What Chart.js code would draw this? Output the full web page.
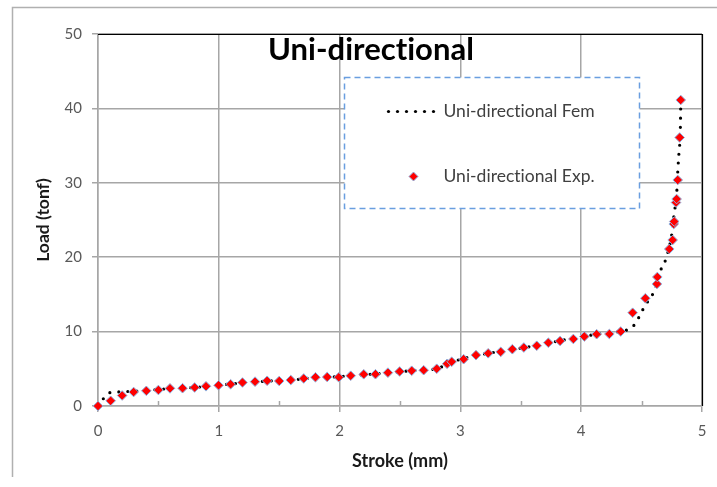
<!DOCTYPE html>
<html>
<head>
<meta charset="utf-8">
<script src="https://cdn.jsdelivr.net/npm/chart.js@4.4.1/dist/chart.umd.min.js"></script>
<style>
  html, body { margin: 0; padding: 0; background: #ffffff; }
  canvas { display: block; }
</style>
</head>
<body>
<canvas id="chart" width="717" height="487"></canvas>
<script>
// Labels
const chartTitle = 'Uni-directional';
const xAxisTitle = 'Stroke (mm)';
const yAxisTitle = 'Load (tonf)';
const femLabel = 'Uni-directional Fem';
const expLabel = 'Uni-directional Exp.';

// Axis ticks
const xTicks = [0, 1, 2, 3, 4, 5];
const xMinorTicks = [0.5, 1.5, 2.5, 3.5, 4.5];
const yTicks = [0, 10, 20, 30, 40, 50];

// Finite element result (stroke in mm, load in tonf)
const femStroke = [0, 0.04, 0.1, 0.18, 0.27, 0.4, 0.6, 0.8, 1.0, 1.2, 1.4, 1.6, 1.8, 2.0, 2.2, 2.4, 2.6, 2.8, 2.88, 2.95, 3.05, 3.2, 3.4, 3.6, 3.8, 4.0, 4.15, 4.3, 4.39, 4.445, 4.48, 4.515, 4.555, 4.6, 4.666, 4.7, 4.752, 4.77, 4.79, 4.8, 4.81, 4.82, 4.824, 4.826];
const femLoad   = [0, 0.9, 1.8, 1.9, 1.97, 2.1, 2.35, 2.5, 2.8, 3.1, 3.35, 3.5, 3.8, 3.95, 4.2, 4.45, 4.75, 5.0, 5.5, 6.0, 6.5, 7.0, 7.5, 8.05, 8.7, 9.3, 9.7, 9.95, 10.3, 11.0, 12.0, 13.1, 14.15, 15.3, 18.6, 19.7, 23.3, 25.9, 28.4, 31.7, 34.2, 36.65, 40.2, 41.1];

// Experimental measurements (stroke in mm, load in tonf)
const expStroke = [0, 0.105, 0.2, 0.295, 0.4, 0.5, 0.596, 0.7, 0.8, 0.894, 0.998, 1.098, 1.196, 1.3, 1.4, 1.5, 1.596, 1.703, 1.8, 1.897, 1.993, 2.092, 2.2, 2.297, 2.4, 2.497, 2.597, 2.696, 2.804, 2.89, 2.928, 3.027, 3.129, 3.23, 3.334, 3.43, 3.525, 3.632, 3.728, 3.825, 3.935, 4.026, 4.128, 4.233, 4.327, 4.426, 4.531, 4.627, 4.63, 4.729, 4.757, 4.766, 4.77, 4.785, 4.79, 4.799, 4.815, 4.824];
const expLoad   = [0, 0.7, 1.41, 1.88, 2.04, 2.15, 2.37, 2.39, 2.49, 2.65, 2.78, 2.92, 3.16, 3.27, 3.39, 3.36, 3.49, 3.7, 3.86, 3.9, 3.86, 4.07, 4.26, 4.27, 4.48, 4.64, 4.74, 4.81, 5.01, 5.67, 5.95, 6.29, 6.84, 7.08, 7.28, 7.63, 7.86, 8.1, 8.51, 8.74, 9.01, 9.34, 9.65, 9.68, 10.01, 12.54, 14.48, 16.4, 17.34, 21.1, 22.31, 24.46, 24.8, 27.35, 27.82, 30.38, 36.09, 41.13];

const FONT = 'Lato, "Open Sans", sans-serif';
const GRID = '#a6a6a6';
const EXP_FILL = '#ff0000';
const EXP_EDGE = '#8db3e2';

function drawDiamond(ctx, x, y, r) {
  ctx.beginPath();
  ctx.moveTo(x, y - r);
  ctx.lineTo(x + r, y);
  ctx.lineTo(x, y + r);
  ctx.lineTo(x - r, y);
  ctx.closePath();
  ctx.fillStyle = EXP_FILL;
  ctx.fill();
  ctx.strokeStyle = EXP_EDGE;
  ctx.lineWidth = 1;
  ctx.stroke();
}

// Plain glyphs (no "ti" ligature) for text drawn directly on the canvas
function plainText(ctx) {
  if ('textRendering' in ctx) ctx.textRendering = 'optimizeSpeed';
  if ('letterSpacing' in ctx) ctx.letterSpacing = '0.01px';
}

// Frame, plot border, minor ticks, title and boxed legend
const decorations = {
  id: 'decorations',
  beforeDraw(chart) {
    const ctx = chart.ctx;
    ctx.save();
    ctx.fillStyle = '#ffffff';
    ctx.fillRect(0, 0, chart.width, chart.height);
    ctx.strokeStyle = '#b0b0b0';
    ctx.lineWidth = 1.5;
    ctx.beginPath();
    ctx.moveTo(12.5, 477);
    ctx.lineTo(12.5, 7.5);
    ctx.lineTo(chart.width, 7.5);
    ctx.stroke();
    ctx.restore();
  },
  afterDraw(chart) {
    const ctx = chart.ctx;
    const a = chart.chartArea;
    const xs = chart.scales.x;
    ctx.save();
    plainText(ctx);

    // minor ticks on the stroke axis
    ctx.strokeStyle = GRID;
    ctx.lineWidth = 1.5;
    xMinorTicks.forEach(v => {
      const px = Math.round(xs.getPixelForValue(v)) + 0.5;
      ctx.beginPath();
      ctx.moveTo(px, a.bottom - 5);
      ctx.lineTo(px, a.bottom);
      ctx.stroke();
    });

    // top and right border of the plot
    ctx.strokeStyle = '#000000';
    ctx.lineWidth = 1.2;
    ctx.beginPath();
    ctx.moveTo(a.left, a.top + 0.5);
    ctx.lineTo(a.right + 0.5, a.top + 0.5);
    ctx.lineTo(a.right + 0.5, a.bottom);
    ctx.stroke();

    // chart title
    ctx.fillStyle = '#000000';
    ctx.font = 'bold 31px ' + FONT;
    ctx.textAlign = 'center';
    ctx.textBaseline = 'alphabetic';
    ctx.fillText(chartTitle, a.left + 273, a.top + 26);

    // legend box
    const bx = a.left + 246.5, by = a.top + 43.5, bw = 295, bh = 131;
    ctx.fillStyle = '#ffffff';
    ctx.fillRect(bx, by, bw, bh);
    ctx.setLineDash([6, 4]);
    ctx.strokeStyle = '#6a9ee0';
    ctx.lineWidth = 1.5;
    ctx.strokeRect(bx, by, bw, bh);
    ctx.setLineDash([]);

    const ds = chart.data.datasets;
    // dotted line sample
    ctx.fillStyle = '#000000';
    for (let i = 0; i < 6; i++) {
      ctx.beginPath();
      ctx.arc(bx + 44 + i * 9, by + 34, 1.6, 0, Math.PI * 2);
      ctx.fill();
    }
    drawDiamond(ctx, bx + 69, by + 99, 4.5);

    ctx.fillStyle = '#404040';
    ctx.font = '17.5px ' + FONT;
    ctx.textAlign = 'left';
    ctx.textBaseline = 'middle';
    ctx.fillText(ds[0].label, bx + 99, by + 34);
    ctx.fillText(ds[1].label, bx + 99, by + 99);
    ctx.restore();
  }
};

new Chart(document.getElementById('chart'), {
  data: {
    datasets: [
      {
        type: 'line',
        label: femLabel,
        data: femStroke.map((x, i) => ({ x, y: femLoad[i] })),
        borderColor: '#000000',
        borderWidth: 3.2,
        borderDash: [0, 9],
        borderCapStyle: 'round',
        pointRadius: 0,
        cubicInterpolationMode: 'monotone',
        fill: false,
        clip: false,
        order: 2
      },
      {
        type: 'scatter',
        label: expLabel,
        data: expStroke.map((x, i) => ({ x, y: expLoad[i] })),
        pointStyle: 'rectRot',
        pointRadius: 4.8,
        backgroundColor: EXP_FILL,
        borderColor: EXP_EDGE,
        borderWidth: 1,
        showLine: false,
        clip: false,
        order: 1
      }
    ]
  },
  options: {
    responsive: false,
    animation: false,
    devicePixelRatio: 1,
    layout: { padding: { left: 0, right: 15, top: 34, bottom: 0 } },
    plugins: {
      legend: { display: false },
      title: { display: false },
      tooltip: { enabled: false }
    },
    scales: {
      x: {
        type: 'linear',
        min: 0,
        max: 5,
        afterBuildTicks: s => { s.ticks = xTicks.map(v => ({ value: v })); },
        afterFit: s => { s.height = 81; },
        ticks: { color: '#595959', font: { family: FONT, size: 15 }, padding: 10, maxRotation: 0 },
        grid: { color: GRID, lineWidth: 1.5, tickLength: 6, tickColor: GRID },
        border: { color: GRID, width: 1.5 },
        title: { display: true, text: xAxisTitle, color: '#1a1a1a', font: { family: FONT, size: 18, weight: 'bold' }, padding: { top: 0, bottom: 15 } }
      },
      y: {
        type: 'linear',
        min: 0,
        max: 50,
        afterBuildTicks: s => { s.ticks = yTicks.map(v => ({ value: v })); },
        afterFit: s => { s.width = 98; },
        ticks: { color: '#595959', font: { family: FONT, size: 15 }, padding: 10 },
        grid: { color: GRID, lineWidth: 1.5, tickLength: 6, tickColor: GRID },
        border: { color: GRID, width: 1.5 },
        title: { display: true, text: yAxisTitle, color: '#1a1a1a', font: { family: FONT, size: 17.5, weight: 'bold' }, padding: { top: 33, bottom: 0 } }
      }
    }
  },
  plugins: [decorations]
});
</script>
</body>
</html>
